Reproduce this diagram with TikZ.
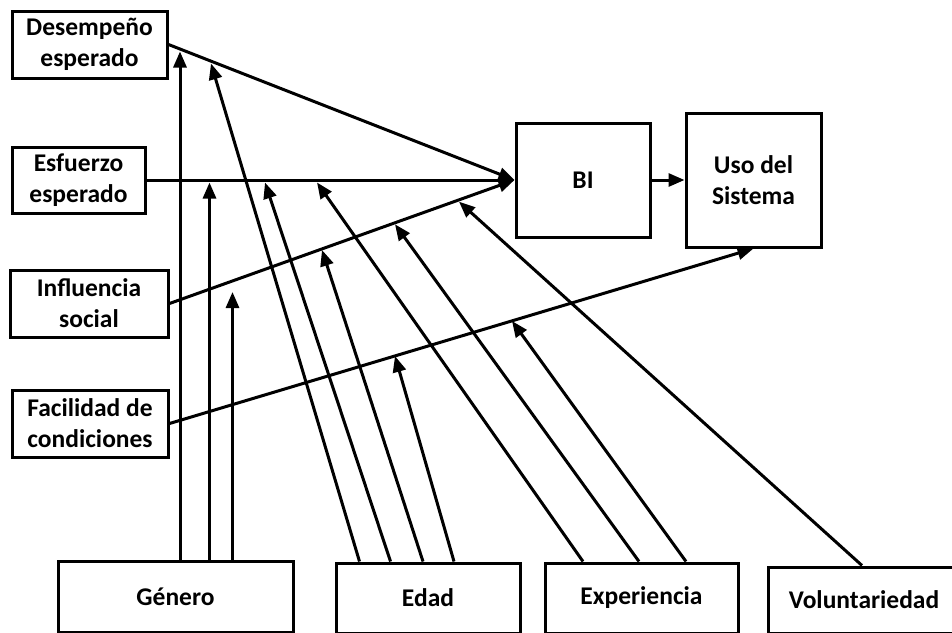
\documentclass[tikz,border=0pt]{standalone}
\usepackage{fontspec}
\setmainfont{Carlito}
\usetikzlibrary{arrows.meta,calc}
\tikzset{
  box/.style={draw, line width=3pt, inner sep=0pt, align=center,
    font=\bfseries\fontsize{25.5}{31}\selectfont},
  link/.style={line width=3pt, -{Triangle[length=16pt,width=13pt]}},
}
\begin{document}
\begin{tikzpicture}[x=1pt,y=-1pt]
\useasboundingbox (0,0) rectangle (952,632);
% boxes
\node[box, minimum width=155pt, minimum height=67pt] (des) at (89.5,44.5) {Desempeño\\esperado};
\node[box, minimum width=133pt, minimum height=66pt] (esf) at (78.5,180) {Esfuerzo\\esperado};
\node[box, minimum width=158pt, minimum height=67pt] (inf) at (89,303.5) {Influencia\\social};
\node[box, minimum width=156pt, minimum height=67pt] (fac) at (90,423.5) {Facilidad de\\condiciones};
\node[box, minimum width=134pt, minimum height=114pt] (bi) at (583,180) {BI};
\node[box, minimum width=135pt, minimum height=134pt] (uso) at (753.5,180) {Uso del\\Sistema};
\node[box, minimum width=235pt, minimum height=71pt] (gen) at (175.5,597) {Género};
\node[box, minimum width=184pt, minimum height=70pt] (eda) at (428,598) {Edad};
\node[box, minimum width=193pt, minimum height=70pt] (exp) at (641.5,598) {Experiencia};
\node[box, minimum width=192pt, minimum height=66pt] (vol) at (864,600) {Voluntariedad};
% arrow tips on the paths
\coordinate (g1) at (180,51.5);
\coordinate (g2) at (209.5,182.5);
\coordinate (g3) at (232.5,292);
\coordinate (e1) at (211,63.5);
\coordinate (e2) at (265,182.5);
\coordinate (e3) at (322,250);
\coordinate (e4) at (395,356);
\coordinate (x1) at (317,182.5);
\coordinate (x2) at (395,224.3);
\coordinate (x3) at (512,321);
\coordinate (v1) at (459,201.7);
% main paths
\draw[link] (des.east) -- (bi.west);
\draw[link] (esf.east) -- (bi.west);
\draw[link] (inf.east) -- (bi.west);
\draw[link] (fac.east) -- (uso.south);
\draw[link] (bi.east) -- (uso.west);
% moderators
\draw[link] ([xshift=4.5pt]gen.north) -- (g1);
\draw[link] ([xshift=34pt]gen.north) -- (g2);
\draw[link] ([xshift=57pt]gen.north) -- (g3);
\draw[link] ([xshift=-68.5pt]eda.north) -- (e1);
\draw[link] ([xshift=-37.5pt]eda.north) -- (e2);
\draw[link] ([xshift=-5pt]eda.north) -- (e3);
\draw[link] ([xshift=26pt]eda.north) -- (e4);
\draw[link] ([xshift=-58.5pt]exp.north) -- (x1);
\draw[link] ([xshift=-2.5pt]exp.north) -- (x2);
\draw[link] ([xshift=44.5pt]exp.north) -- (x3);
\draw[link] ([xshift=-2pt]vol.north) -- (v1);
\end{tikzpicture}
\end{document}
